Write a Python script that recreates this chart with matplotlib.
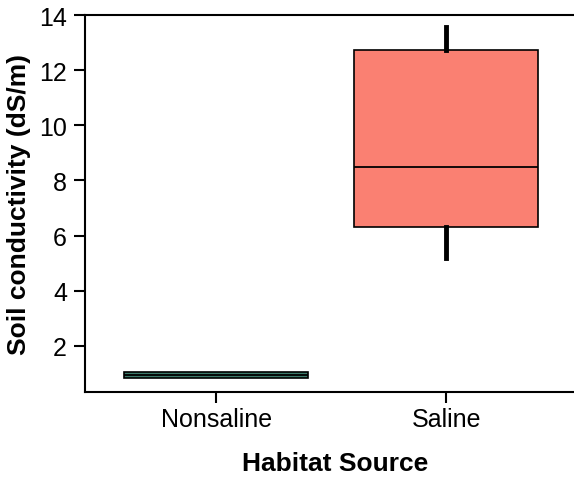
import matplotlib
matplotlib.use('Agg')
import matplotlib.pyplot as plt

plt.rcParams['font.family'] = ['Liberation Sans', 'DejaVu Sans']

# summary values per habitat (dS/m)
habitats = ['Nonsaline', 'Saline']
whislo = [0.84, 5.17]
q1 = [0.85, 6.30]
med = [0.93, 8.48]
q3 = [1.05, 12.72]
whishi = [1.06, 13.56]
colors = ['#3d7a6a', '#FA8072']

stats = []
for i, name in enumerate(habitats):
    stats.append(dict(label=name, whislo=whislo[i], q1=q1[i], med=med[i],
                      q3=q3[i], whishi=whishi[i], fliers=[]))

fig = plt.figure(figsize=(5.74, 4.85), dpi=100)
ax = fig.add_axes([0.148, 0.19, 0.87, 0.777])

bp = ax.bxp(stats, positions=[1, 2], widths=0.8, patch_artist=True,
            showcaps=False, showfliers=False,
            boxprops=dict(linewidth=1.2, edgecolor='black'),
            medianprops=dict(color='black', linewidth=1.3),
            whiskerprops=dict(color='black', linewidth=3.5))
for patch, c in zip(bp['boxes'], colors):
    patch.set_facecolor(c)

ax.set_xlim(0.43, 2.6)
ax.set_ylim(0.33, 14)
ax.set_yticks([2, 4, 6, 8, 10, 12, 14])
ax.set_xticks([1, 2])
ax.set_xticklabels(habitats)

for s in ['left', 'bottom', 'top']:
    ax.spines[s].set_linewidth(1.5)
ax.spines['right'].set_visible(False)

ax.tick_params(axis='both', labelsize=18, length=8, width=1.5, direction='out')
ax.tick_params(axis='x', pad=3)
ax.tick_params(axis='y', pad=5)

ax.set_ylabel('Soil conductivity (dS/m)', fontsize=19, fontweight='bold', labelpad=6)
ax.set_xlabel('Habitat Source', fontsize=19, fontweight='bold', labelpad=14)

fig.savefig('out.png', dpi=100)
